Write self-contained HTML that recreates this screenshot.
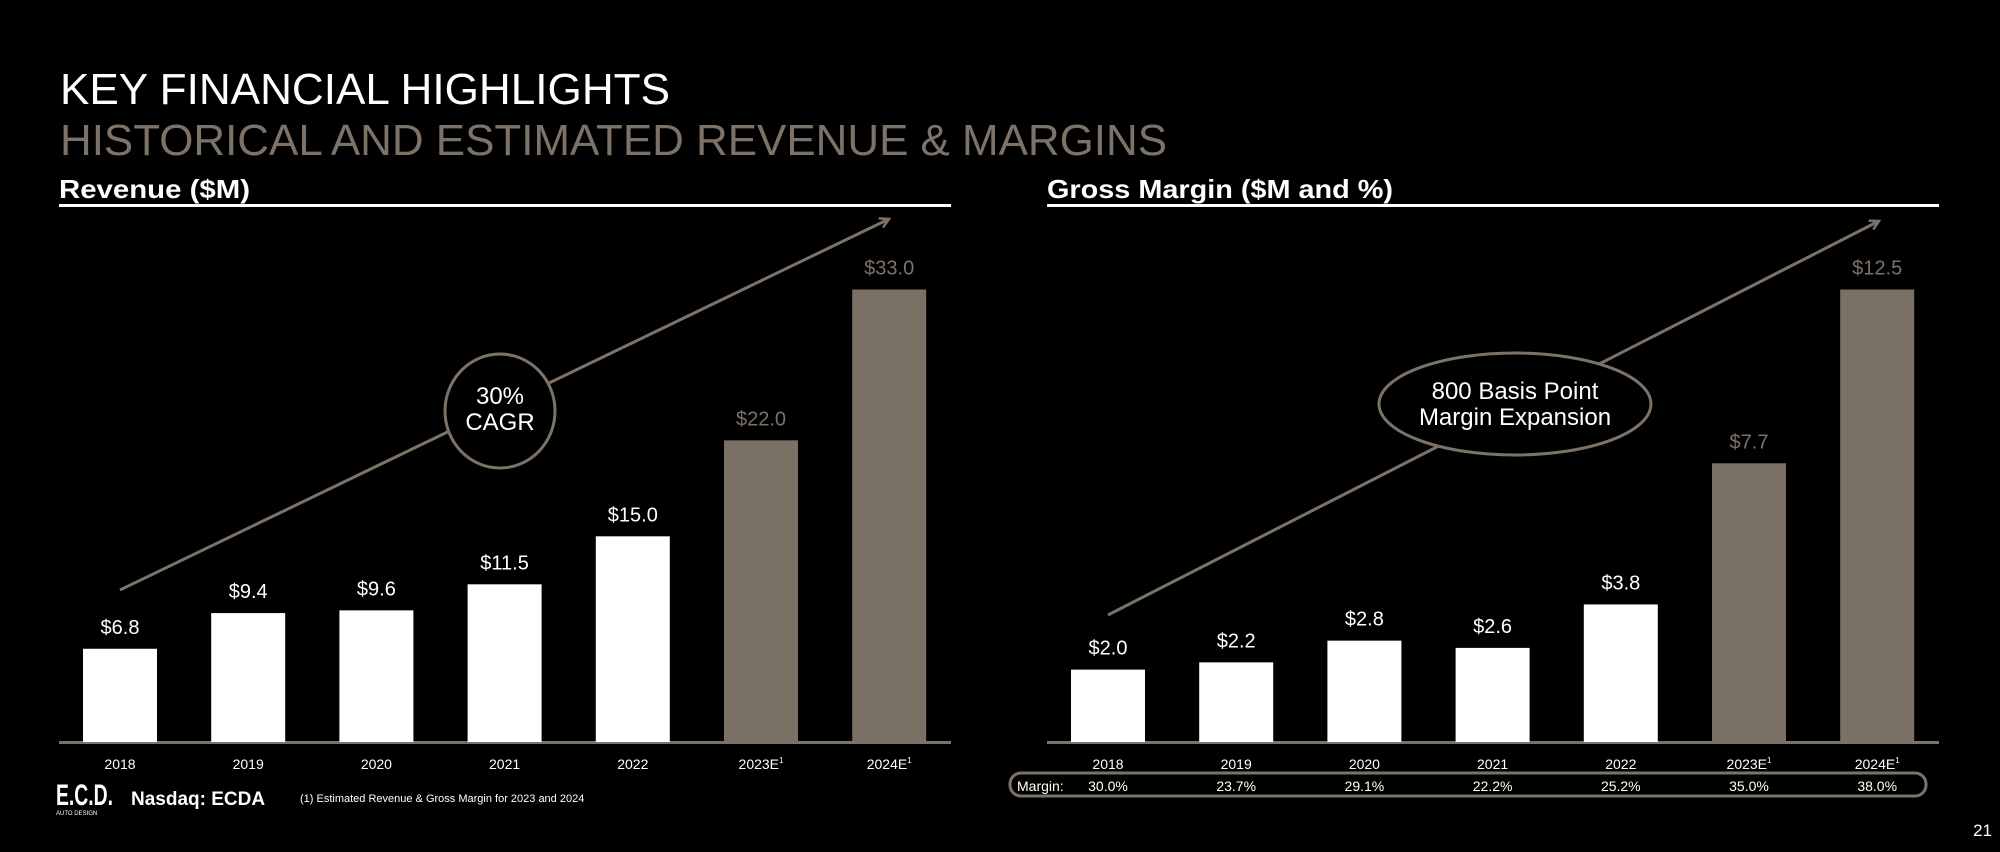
<!DOCTYPE html>
<html><head><meta charset="utf-8"><style>
html,body{margin:0;padding:0;background:#000;}
svg{display:block;font-family:"Liberation Sans",sans-serif;}
</style></head><body>
<svg id="s" width="2000" height="852" viewBox="0 0 2000 852">
<rect width="2000" height="852" fill="#000"/>
<text x="60" y="104" font-size="44" fill="#fff" textLength="610" lengthAdjust="spacingAndGlyphs">KEY FINANCIAL HIGHLIGHTS</text>
<text x="60" y="155" font-size="44" fill="#7d7267" textLength="1107" lengthAdjust="spacingAndGlyphs">HISTORICAL AND ESTIMATED REVENUE &amp; MARGINS</text>
<text x="59" y="198" font-size="26" font-weight="bold" fill="#fff" textLength="191" lengthAdjust="spacingAndGlyphs">Revenue ($M)</text>
<rect x="59" y="204" width="892" height="3" fill="#fff"/>
<text x="1047" y="198" font-size="26" font-weight="bold" fill="#fff" textLength="346" lengthAdjust="spacingAndGlyphs">Gross Margin ($M and %)</text>
<rect x="1047" y="204" width="892" height="3" fill="#fff"/>
<defs><marker id="ah" markerWidth="12" markerHeight="12" refX="10" refY="6" orient="auto" markerUnits="userSpaceOnUse"><path d="M1,1 L10,6 L1,11" fill="none" stroke="#7d7267" stroke-width="2.5"/></marker></defs>
<line x1="120" y1="590" x2="889" y2="219" stroke="#7d7267" stroke-width="3" marker-end="url(#ah)"/>
<ellipse cx="500" cy="411" rx="55" ry="57" fill="#000" stroke="#7d7267" stroke-width="3"/>
<text x="500" y="404" font-size="24" fill="#fff" text-anchor="middle">30%</text>
<text x="500" y="430" font-size="24" fill="#fff" text-anchor="middle">CAGR</text>
<line x1="1108" y1="615" x2="1879" y2="221" stroke="#7d7267" stroke-width="3" marker-end="url(#ah)"/>
<ellipse cx="1515" cy="404" rx="136" ry="51" fill="#000" stroke="#7d7267" stroke-width="3"/>
<text x="1515" y="399" font-size="24" fill="#fff" text-anchor="middle">800 Basis Point</text>
<text x="1515" y="425" font-size="24" fill="#fff" text-anchor="middle">Margin Expansion</text>
<rect x="59" y="741" width="892" height="3" fill="#7d7267"/>
<rect x="1047" y="741" width="892" height="3" fill="#7d7267"/>
<rect x="1010" y="773" width="916" height="23" rx="11" fill="none" stroke="#7d7267" stroke-width="3"/>
<text x="1017" y="791" font-size="14" fill="#fff">Margin:</text>
<text x="56" y="805" font-size="30" font-weight="bold" fill="#fff" textLength="57" lengthAdjust="spacingAndGlyphs">E.C.D.</text>
<text x="56" y="815" font-size="6" fill="#fff">AUTO DESIGN</text>
<text x="131" y="805" font-size="19" font-weight="bold" fill="#fff">Nasdaq: ECDA</text>
<text x="300" y="802" font-size="11" fill="#fff">(1) Estimated Revenue &amp; Gross Margin for 2023 and 2024</text>
<text x="1992" y="836" font-size="17" fill="#fff" text-anchor="end">21</text>
<g id="gL"></g><g id="gR"></g>
</svg>
<script>
const years = ["2018","2019","2020","2021","2022","2023E","2024E"];
const estimated = [false,false,false,false,false,true,true];
const revenue = [6.8,9.4,9.6,11.5,15.0,22.0,33.0];
const grossMargin = [2.0,2.2,2.8,2.6,3.8,7.7,12.5];
const marginPct = ["30.0%","23.7%","29.1%","22.2%","25.2%","35.0%","38.0%"];
const NS="http://www.w3.org/2000/svg";
function mk(tag,attrs,parent){const e=document.createElementNS(NS,tag);for(const k in attrs)e.setAttribute(k,attrs[k]);parent.appendChild(e);return e;}
function drawChart(g,x0,vals,maxV,prefix,pct){
  const base=742, top=289.5, step=128.2, bw=74;
  const y=v=>base-(v/maxV)*(base-top);
  const xc=i=>x0+i*step;
  vals.forEach((v,i)=>{
    const col=estimated[i]?"#7b7064":"#fff";
    const r=mk("rect",{x:xc(i)-bw/2,y:y(v),width:bw,height:base-y(v),fill:col},g);
    
    
    const t=mk("text",{x:xc(i),y:y(v)-15,"font-size":20,fill:estimated[i]?"#7d7267":"#fff","text-anchor":"middle"},g);
    t.textContent="$"+v.toFixed(1);
    
    
    const yl=mk("text",{x:xc(i),y:769,"font-size":14,fill:"#fff","text-anchor":"middle"},g);
    yl.textContent=years[i];
    if(estimated[i]){const s=mk("tspan",{"font-size":8,dy:-6},yl);s.textContent="1";}
    
    
    if(pct){
      const p=mk("text",{x:xc(i),y:791,"font-size":14,fill:"#fff","text-anchor":"middle"},g);
      p.textContent=pct[i];
      
      
    }
  });
}
drawChart(document.getElementById("gL"),120,revenue,33.0,"revenue",null);
drawChart(document.getElementById("gR"),1108,grossMargin,12.5,"gross-margin",marginPct);
</script>
</body></html>
